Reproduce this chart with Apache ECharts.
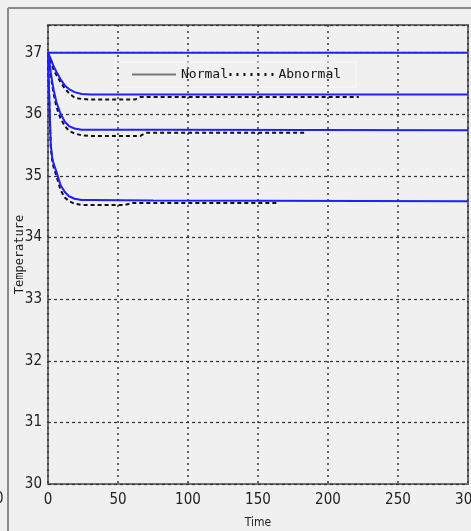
<!DOCTYPE html>
<html>
<head>
<meta charset="utf-8">
<script src="https://cdn.jsdelivr.net/npm/echarts@6/dist/echarts.min.js"></script>
<style>
  html, body { margin: 0; padding: 0; background: #f0f0f0; }
  #main { width: 471px; height: 531px; }
</style>
</head>
<body>
<div id="main"></div>
<script>
var normalTime = [0, 1, 2, 3, 4, 6, 9, 12, 15, 19, 24, 30, 75, 300];
var normalTop = [37, 37, 37, 37, 37, 37, 37, 37, 37, 37, 37, 37, 37, 37];
var normalA = [37, 36.95, 36.9, 36.84, 36.78, 36.69, 36.57, 36.47, 36.41, 36.36, 36.33, 36.32, 36.32, 36.32];
var normalB = [37, 36.85, 36.68, 36.53, 36.4, 36.2, 36.01, 35.88, 35.81, 35.77, 35.75, 35.75, 35.75, 35.74];
var normalC = [37, 36.2, 35.5, 35.3, 35.2, 35.07, 34.85, 34.74, 34.67, 34.63, 34.61, 34.61, 34.6, 34.59];

var abnTimeA = [0, 1, 2, 3, 4, 6, 9, 12, 15, 19, 24, 30, 62, 66, 222];
var abnormalA = [37, 36.93, 36.86, 36.79, 36.72, 36.64, 36.52, 36.42, 36.34, 36.27, 36.25, 36.24, 36.24, 36.28, 36.28];
var abnTimeB = [0, 1, 2, 3, 4, 6, 9, 12, 15, 19, 24, 30, 66, 70, 183];
var abnormalB = [37, 36.82, 36.64, 36.48, 36.34, 36.12, 35.93, 35.81, 35.73, 35.69, 35.66, 35.65, 35.65, 35.7, 35.7];
var abnTimeC = [0, 1, 2, 3, 4, 6, 9, 12, 15, 19, 24, 30, 55, 60, 164];
var abnormalC = [37, 36.15, 35.45, 35.25, 35.14, 35.0, 34.77, 34.65, 34.59, 34.55, 34.53, 34.53, 34.53, 34.56, 34.56];

function pairs(t, v) {
  return t.map(function (x, i) { return [x, v[i]]; });
}

var labelFont = '"Liberation Sans Narrow", "DejaVu Sans Condensed", sans-serif';
var blue = '#1f1fff';

function normalSeries(v) {
  return {
    name: 'Normal', type: 'line', symbol: 'none', z: 3,
    lineStyle: { color: blue, width: 2 },
    itemStyle: { color: blue },
    data: pairs(normalTime, v)
  };
}
function abnormalSeries(t, v) {
  return {
    name: 'Abnormal', type: 'line', symbol: 'none', z: 2,
    lineStyle: { color: '#111', width: 2, type: [4, 3] },
    itemStyle: { color: '#111' },
    data: pairs(t, v)
  };
}

var myChart = echarts.init(document.getElementById('main'));
var option = {
  backgroundColor: '#f0f0f0',
  animation: false,
  grid: {
    left: 48, top: 25, right: 3, bottom: 47,
    outerBoundsMode: 'none',
    show: true, borderColor: '#6e6e6e', borderWidth: 2, backgroundColor: '#f0f0f0'
  },
  legend: {
    left: 115, top: 62,
    padding: [6, 15, 6, 16],
    itemGap: 0, itemWidth: 44, itemHeight: 12,
    borderColor: '#fbfbfb', borderWidth: 1,
    textStyle: { fontFamily: '"DejaVu Sans Mono", monospace', fontSize: 13, color: '#111' },
    data: [
      { name: 'Normal', lineStyle: { color: '#777', width: 2, type: 'solid' }, itemStyle: { opacity: 0 } },
      { name: 'Abnormal', lineStyle: { color: '#111', width: 3, type: [2, 5] }, itemStyle: { opacity: 0 } }
    ]
  },
  graphic: [
    { type: 'line', shape: { x1: 8, y1: 8, x2: 471, y2: 8 }, style: { stroke: '#8a8a8a', lineWidth: 2 } },
    { type: 'line', shape: { x1: 8, y1: 8, x2: 8, y2: 531 }, style: { stroke: '#8a8a8a', lineWidth: 2 } },
    { type: 'text', left: -5, top: 492, style: { text: '0', font: '15px ' + labelFont, fill: '#222' } }
  ],
  xAxis: {
    type: 'value', min: 0, max: 300, interval: 50,
    name: 'Time', nameLocation: 'middle', nameGap: 33, nameMoveOverlap: false,
    nameTextStyle: { fontFamily: labelFont, fontSize: 12, color: '#222' },
    axisLine: { show: false },
    axisTick: { show: false },
    axisLabel: { margin: 9, fontFamily: labelFont, fontSize: 15, color: '#222' },
    splitLine: { show: true, lineStyle: { color: '#333', width: 1.5, type: [2, 4] } }
  },
  yAxis: {
    type: 'value', min: 30, max: 37.45, interval: 1,
    name: 'Temperature', nameLocation: 'middle', nameGap: 22, nameMoveOverlap: false,
    nameTextStyle: { fontFamily: '"DejaVu Sans Mono", monospace', fontSize: 12, color: '#222' },
    axisLine: { show: false },
    axisTick: { show: false },
    axisLabel: { margin: 6, fontFamily: labelFont, fontSize: 15, color: '#222', showMaxLabel: false },
    splitLine: { show: true, lineStyle: { color: '#333', width: 1.2, type: [3, 3] } }
  },
  series: [
    abnormalSeries(abnTimeA, abnormalA),
    abnormalSeries(abnTimeB, abnormalB),
    abnormalSeries(abnTimeC, abnormalC),
    normalSeries(normalTop),
    normalSeries(normalA),
    normalSeries(normalB),
    normalSeries(normalC)
  ]
};
myChart.setOption(option);
</script>
</body>
</html>
